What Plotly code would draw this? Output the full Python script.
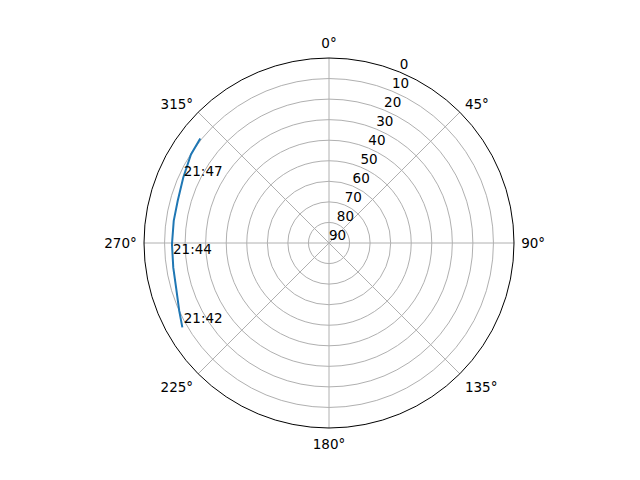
import plotly.graph_objects as go

# satellite pass track (azimuth deg, elevation deg)
track_az = [240.1, 245.6, 253.7, 261.0, 269.5, 278.1, 285.5, 294.1, 302.7, 309.1]
track_el = [7.7, 10.0, 12.5, 13.3, 13.6, 13.7, 13.6, 12.3, 10.2, 9.3]

# time labels along the pass
label_text = ["21:42", "21:44", "21:47"]
label_az = [240.0, 264.9, 293.7]
label_el = [8.4, 13.8, 12.8]

elev_ticks = [0, 10, 20, 30, 40, 50, 60, 70, 80, 90]
az_ticks = [0, 45, 90, 135, 180, 225, 270, 315]
ELEV_LABEL_AZ = 22.5  # matplotlib puts radial labels along this direction

FONT = dict(family="DejaVu Sans", size=13.5, color="black")
GRID = "#b0b0b0"

fig = go.Figure()
# radius = 90 - elevation so the horizon sits on the outer ring
fig.add_trace(go.Scatterpolar(
    theta=track_az,
    r=[90 - e for e in track_el],
    mode="lines",
    line=dict(color="#1f77b4", width=2),
    hoverinfo="skip",
))
fig.add_trace(go.Scatterpolar(
    theta=label_az,
    r=[90 - e for e in label_el],
    mode="text",
    text=label_text,
    textposition="top right",
    textfont=FONT,
    hoverinfo="skip",
))
# elevation tick labels, horizontal like matplotlib's
fig.add_trace(go.Scatterpolar(
    theta=[ELEV_LABEL_AZ] * len(elev_ticks),
    r=[90 - e for e in elev_ticks],
    mode="text",
    text=[str(e) for e in elev_ticks],
    textposition="top right",
    textfont=FONT,
    hoverinfo="skip",
    cliponaxis=False,
))

fig.update_layout(
    width=640,
    height=480,
    showlegend=False,
    paper_bgcolor="white",
    margin=dict(l=73, r=71, t=50, b=60),
    font=FONT,
    polar=dict(
        bgcolor="white",
        angularaxis=dict(
            rotation=90,
            direction="clockwise",
            tickmode="array",
            tickvals=az_ticks,
            ticktext=[f"{a}°" for a in az_ticks],
            # invisible ticks just to push the labels off the circle a bit
            ticks="outside",
            ticklen=4,
            tickcolor="rgba(0,0,0,0)",
            showline=True,
            linecolor="black",
            linewidth=1,
            gridcolor=GRID,
            gridwidth=1,
            tickfont=FONT,
        ),
        radialaxis=dict(
            range=[0, 90],
            tickmode="array",
            tickvals=[90 - e for e in elev_ticks],
            ticks="",
            showticklabels=False,
            showline=False,
            gridcolor=GRID,
            gridwidth=1,
        ),
    ),
)

fig.write_html("out.html")
